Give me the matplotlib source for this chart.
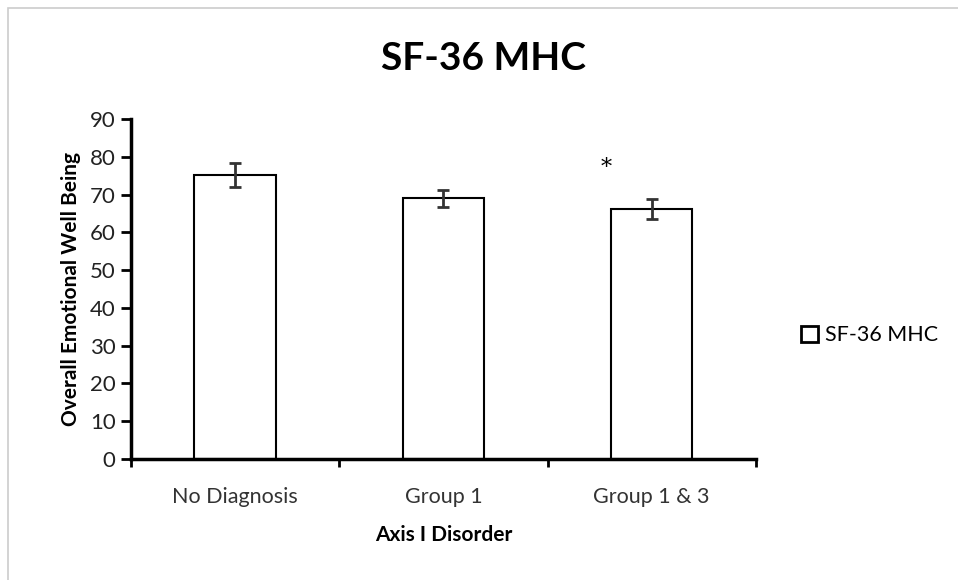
import matplotlib
matplotlib.use('Agg')
import matplotlib.pyplot as plt
import matplotlib.patches as mpatches
import numpy as np

plt.rcParams['font.family'] = ['Lato', 'DejaVu Sans']

categories = ['No Diagnosis', 'Group 1', 'Group 1 & 3']
values = [75.1, 69.0, 66.1]
errors = [3.2, 2.3, 2.6]
series_name = 'SF-36 MHC'
y_ticks = [0, 10, 20, 30, 40, 50, 60, 70, 80, 90]

fig = plt.figure(figsize=(9.58, 5.8), dpi=100)
ax = fig.add_axes([0.1367, 0.2086, 0.6523, 0.5862])

x = np.arange(len(categories))
ax.bar(x, values, width=0.39, color='white', edgecolor='black', linewidth=1.5,
       label=series_name, zorder=2)
ax.errorbar(x, values, yerr=errors, fmt='none', ecolor='#333333', elinewidth=2,
            capsize=4, capthick=2, zorder=3)

# significance marker
ax.text(1.78, 77, '*', ha='center', va='center', fontsize=16, family='DejaVu Serif')

ax.set_xlim(-0.5, 2.5)
ax.set_ylim(0, 90)
ax.set_yticks(y_ticks)
ax.tick_params(axis='y', direction='out', length=7, width=2, labelsize=16,
               labelcolor='#222222', pad=4)
ax.set_xticks([-0.5, 0.5, 1.5, 2.5])
ax.set_xticklabels([])
ax.tick_params(axis='x', which='major', direction='out', length=6, width=2)
ax.set_xticks(x, minor=True)
ax.set_xticklabels(categories, minor=True)
ax.tick_params(axis='x', which='minor', length=0, labelsize=15.5, labelcolor='#333333', pad=20)

for side in ['top', 'right']:
    ax.spines[side].set_visible(False)
for side in ['left', 'bottom']:
    ax.spines[side].set_linewidth(2.5)

ax.set_ylabel('Overall Emotional Well Being', fontsize=15, fontweight='bold', labelpad=6)
ax.set_xlabel('Axis I Disorder', fontsize=15, fontweight='bold', labelpad=13)

fig.text(0.505, 0.90, 'SF-36 MHC', ha='center', va='center', fontsize=28, fontweight='bold')

handle = mpatches.Patch(facecolor='white', edgecolor='black', linewidth=2)
fig.legend([handle], [series_name], loc='center left', bbox_to_anchor=(0.825, 0.422),
           frameon=False, fontsize=15.5, handlelength=0.8, handleheight=0.8,
           handletextpad=0.3, borderpad=0)

# light outer border of the chart area
border = mpatches.Rectangle((8 / 958, -0.1), 1.2, 1 - 8 / 580 + 0.1, transform=fig.transFigure,
                            fill=False, edgecolor='#cccccc', linewidth=1.2)
fig.patches.append(border)

fig.savefig('out.png', dpi=100)
